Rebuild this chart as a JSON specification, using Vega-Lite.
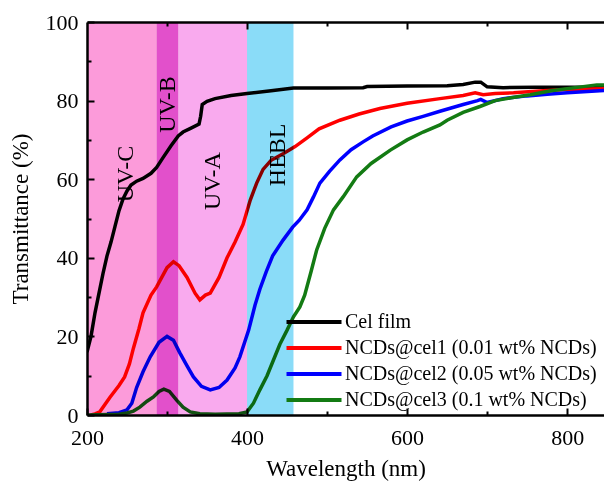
{
  "$schema": "https://vega.github.io/schema/vega-lite/v6.json",
  "width": 517,
  "height": 393,
  "autosize": {"type": "none"},
  "padding": {"left": 87, "top": 22, "right": 0, "bottom": 71},
  "background": "white",
  "config": {
    "font": "Liberation Serif",
    "view": {"stroke": null},
    "axis": {"labelFont": "Liberation Serif", "titleFont": "Liberation Serif", "labelColor": "black", "titleColor": "black", "domainColor": "black", "tickColor": "black", "grid": false, "titleFontWeight": "normal", "labelFlush": false}
  },
  "datasets": {
    "spectra": [
      {"sample": "Cel film", "wl": 200, "T": 16}, {"sample": "Cel film", "wl": 205, "T": 20}, {"sample": "Cel film", "wl": 210, "T": 26}, {"sample": "Cel film", "wl": 215, "T": 31}, {"sample": "Cel film", "wl": 220, "T": 36}, {"sample": "Cel film", "wl": 225, "T": 40.5}, {"sample": "Cel film", "wl": 230, "T": 44}, {"sample": "Cel film", "wl": 235, "T": 48}, {"sample": "Cel film", "wl": 240, "T": 52}, {"sample": "Cel film", "wl": 245, "T": 55}, {"sample": "Cel film", "wl": 250, "T": 57}, {"sample": "Cel film", "wl": 255, "T": 58.5}, {"sample": "Cel film", "wl": 262, "T": 59.5}, {"sample": "Cel film", "wl": 270, "T": 60.2}, {"sample": "Cel film", "wl": 280, "T": 61.5}, {"sample": "Cel film", "wl": 287, "T": 63}, {"sample": "Cel film", "wl": 295, "T": 65.5}, {"sample": "Cel film", "wl": 305, "T": 68.5}, {"sample": "Cel film", "wl": 314, "T": 71}, {"sample": "Cel film", "wl": 320, "T": 72}, {"sample": "Cel film", "wl": 330, "T": 73}, {"sample": "Cel film", "wl": 340, "T": 74}, {"sample": "Cel film", "wl": 342, "T": 76}, {"sample": "Cel film", "wl": 344, "T": 79}, {"sample": "Cel film", "wl": 350, "T": 79.8}, {"sample": "Cel film", "wl": 360, "T": 80.5}, {"sample": "Cel film", "wl": 380, "T": 81.3}, {"sample": "Cel film", "wl": 400, "T": 81.8}, {"sample": "Cel film", "wl": 430, "T": 82.5}, {"sample": "Cel film", "wl": 458, "T": 83.2}, {"sample": "Cel film", "wl": 500, "T": 83.2}, {"sample": "Cel film", "wl": 545, "T": 83.3}, {"sample": "Cel film", "wl": 550, "T": 83.6}, {"sample": "Cel film", "wl": 600, "T": 83.7}, {"sample": "Cel film", "wl": 650, "T": 83.8}, {"sample": "Cel film", "wl": 670, "T": 84.1}, {"sample": "Cel film", "wl": 685, "T": 84.7}, {"sample": "Cel film", "wl": 692, "T": 84.7}, {"sample": "Cel film", "wl": 700, "T": 83.5}, {"sample": "Cel film", "wl": 720, "T": 83.3}, {"sample": "Cel film", "wl": 760, "T": 83.4}, {"sample": "Cel film", "wl": 800, "T": 83.4}, {"sample": "Cel film", "wl": 846, "T": 83.4},
      {"sample": "NCDs@cel1 (0.01 wt% NCDs)", "wl": 205, "T": 0}, {"sample": "NCDs@cel1 (0.01 wt% NCDs)", "wl": 210, "T": 0.3}, {"sample": "NCDs@cel1 (0.01 wt% NCDs)", "wl": 216, "T": 0.8}, {"sample": "NCDs@cel1 (0.01 wt% NCDs)", "wl": 229, "T": 4.6}, {"sample": "NCDs@cel1 (0.01 wt% NCDs)", "wl": 240, "T": 7.5}, {"sample": "NCDs@cel1 (0.01 wt% NCDs)", "wl": 247, "T": 9.7}, {"sample": "NCDs@cel1 (0.01 wt% NCDs)", "wl": 253, "T": 13}, {"sample": "NCDs@cel1 (0.01 wt% NCDs)", "wl": 258, "T": 17}, {"sample": "NCDs@cel1 (0.01 wt% NCDs)", "wl": 265, "T": 22}, {"sample": "NCDs@cel1 (0.01 wt% NCDs)", "wl": 270, "T": 26}, {"sample": "NCDs@cel1 (0.01 wt% NCDs)", "wl": 280, "T": 30.5}, {"sample": "NCDs@cel1 (0.01 wt% NCDs)", "wl": 287, "T": 32.6}, {"sample": "NCDs@cel1 (0.01 wt% NCDs)", "wl": 300, "T": 37.5}, {"sample": "NCDs@cel1 (0.01 wt% NCDs)", "wl": 308, "T": 39}, {"sample": "NCDs@cel1 (0.01 wt% NCDs)", "wl": 315, "T": 38}, {"sample": "NCDs@cel1 (0.01 wt% NCDs)", "wl": 325, "T": 35}, {"sample": "NCDs@cel1 (0.01 wt% NCDs)", "wl": 335, "T": 31}, {"sample": "NCDs@cel1 (0.01 wt% NCDs)", "wl": 341, "T": 29.3}, {"sample": "NCDs@cel1 (0.01 wt% NCDs)", "wl": 348, "T": 30.5}, {"sample": "NCDs@cel1 (0.01 wt% NCDs)", "wl": 354, "T": 31}, {"sample": "NCDs@cel1 (0.01 wt% NCDs)", "wl": 365, "T": 35}, {"sample": "NCDs@cel1 (0.01 wt% NCDs)", "wl": 375, "T": 40}, {"sample": "NCDs@cel1 (0.01 wt% NCDs)", "wl": 385, "T": 44}, {"sample": "NCDs@cel1 (0.01 wt% NCDs)", "wl": 395, "T": 48.5}, {"sample": "NCDs@cel1 (0.01 wt% NCDs)", "wl": 404, "T": 54.7}, {"sample": "NCDs@cel1 (0.01 wt% NCDs)", "wl": 412, "T": 59}, {"sample": "NCDs@cel1 (0.01 wt% NCDs)", "wl": 420, "T": 62.5}, {"sample": "NCDs@cel1 (0.01 wt% NCDs)", "wl": 430, "T": 64.8}, {"sample": "NCDs@cel1 (0.01 wt% NCDs)", "wl": 445, "T": 66.5}, {"sample": "NCDs@cel1 (0.01 wt% NCDs)", "wl": 460, "T": 68.3}, {"sample": "NCDs@cel1 (0.01 wt% NCDs)", "wl": 475, "T": 70.5}, {"sample": "NCDs@cel1 (0.01 wt% NCDs)", "wl": 490, "T": 72.8}, {"sample": "NCDs@cel1 (0.01 wt% NCDs)", "wl": 516, "T": 75}, {"sample": "NCDs@cel1 (0.01 wt% NCDs)", "wl": 540, "T": 76.6}, {"sample": "NCDs@cel1 (0.01 wt% NCDs)", "wl": 566, "T": 78}, {"sample": "NCDs@cel1 (0.01 wt% NCDs)", "wl": 600, "T": 79.3}, {"sample": "NCDs@cel1 (0.01 wt% NCDs)", "wl": 641, "T": 80.5}, {"sample": "NCDs@cel1 (0.01 wt% NCDs)", "wl": 670, "T": 81.3}, {"sample": "NCDs@cel1 (0.01 wt% NCDs)", "wl": 685, "T": 82}, {"sample": "NCDs@cel1 (0.01 wt% NCDs)", "wl": 695, "T": 81.5}, {"sample": "NCDs@cel1 (0.01 wt% NCDs)", "wl": 710, "T": 81.8}, {"sample": "NCDs@cel1 (0.01 wt% NCDs)", "wl": 733, "T": 82}, {"sample": "NCDs@cel1 (0.01 wt% NCDs)", "wl": 770, "T": 82.5}, {"sample": "NCDs@cel1 (0.01 wt% NCDs)", "wl": 800, "T": 82.8}, {"sample": "NCDs@cel1 (0.01 wt% NCDs)", "wl": 846, "T": 83},
      {"sample": "NCDs@cel2 (0.05 wt% NCDs)", "wl": 225, "T": 0.3}, {"sample": "NCDs@cel2 (0.05 wt% NCDs)", "wl": 240, "T": 0.6}, {"sample": "NCDs@cel2 (0.05 wt% NCDs)", "wl": 250, "T": 1.3}, {"sample": "NCDs@cel2 (0.05 wt% NCDs)", "wl": 256, "T": 3}, {"sample": "NCDs@cel2 (0.05 wt% NCDs)", "wl": 262, "T": 7}, {"sample": "NCDs@cel2 (0.05 wt% NCDs)", "wl": 270, "T": 11}, {"sample": "NCDs@cel2 (0.05 wt% NCDs)", "wl": 279, "T": 14.8}, {"sample": "NCDs@cel2 (0.05 wt% NCDs)", "wl": 290, "T": 18.5}, {"sample": "NCDs@cel2 (0.05 wt% NCDs)", "wl": 300, "T": 20}, {"sample": "NCDs@cel2 (0.05 wt% NCDs)", "wl": 308, "T": 19}, {"sample": "NCDs@cel2 (0.05 wt% NCDs)", "wl": 316, "T": 15.8}, {"sample": "NCDs@cel2 (0.05 wt% NCDs)", "wl": 325, "T": 12.5}, {"sample": "NCDs@cel2 (0.05 wt% NCDs)", "wl": 333, "T": 9.7}, {"sample": "NCDs@cel2 (0.05 wt% NCDs)", "wl": 343, "T": 7.3}, {"sample": "NCDs@cel2 (0.05 wt% NCDs)", "wl": 354, "T": 6.4}, {"sample": "NCDs@cel2 (0.05 wt% NCDs)", "wl": 365, "T": 7}, {"sample": "NCDs@cel2 (0.05 wt% NCDs)", "wl": 375, "T": 8.9}, {"sample": "NCDs@cel2 (0.05 wt% NCDs)", "wl": 385, "T": 12}, {"sample": "NCDs@cel2 (0.05 wt% NCDs)", "wl": 391, "T": 14.8}, {"sample": "NCDs@cel2 (0.05 wt% NCDs)", "wl": 402, "T": 21.6}, {"sample": "NCDs@cel2 (0.05 wt% NCDs)", "wl": 410, "T": 28}, {"sample": "NCDs@cel2 (0.05 wt% NCDs)", "wl": 416, "T": 32}, {"sample": "NCDs@cel2 (0.05 wt% NCDs)", "wl": 424, "T": 36.5}, {"sample": "NCDs@cel2 (0.05 wt% NCDs)", "wl": 432, "T": 40.5}, {"sample": "NCDs@cel2 (0.05 wt% NCDs)", "wl": 445, "T": 44.5}, {"sample": "NCDs@cel2 (0.05 wt% NCDs)", "wl": 457, "T": 47.8}, {"sample": "NCDs@cel2 (0.05 wt% NCDs)", "wl": 465, "T": 49.5}, {"sample": "NCDs@cel2 (0.05 wt% NCDs)", "wl": 475, "T": 52.2}, {"sample": "NCDs@cel2 (0.05 wt% NCDs)", "wl": 483, "T": 55.5}, {"sample": "NCDs@cel2 (0.05 wt% NCDs)", "wl": 491, "T": 59}, {"sample": "NCDs@cel2 (0.05 wt% NCDs)", "wl": 503, "T": 62}, {"sample": "NCDs@cel2 (0.05 wt% NCDs)", "wl": 516, "T": 64.9}, {"sample": "NCDs@cel2 (0.05 wt% NCDs)", "wl": 530, "T": 67.5}, {"sample": "NCDs@cel2 (0.05 wt% NCDs)", "wl": 545, "T": 69.5}, {"sample": "NCDs@cel2 (0.05 wt% NCDs)", "wl": 557, "T": 71}, {"sample": "NCDs@cel2 (0.05 wt% NCDs)", "wl": 580, "T": 73.3}, {"sample": "NCDs@cel2 (0.05 wt% NCDs)", "wl": 600, "T": 74.8}, {"sample": "NCDs@cel2 (0.05 wt% NCDs)", "wl": 620, "T": 76}, {"sample": "NCDs@cel2 (0.05 wt% NCDs)", "wl": 641, "T": 77.3}, {"sample": "NCDs@cel2 (0.05 wt% NCDs)", "wl": 670, "T": 79}, {"sample": "NCDs@cel2 (0.05 wt% NCDs)", "wl": 688, "T": 80}, {"sample": "NCDs@cel2 (0.05 wt% NCDs)", "wl": 692, "T": 80.3}, {"sample": "NCDs@cel2 (0.05 wt% NCDs)", "wl": 700, "T": 79.5}, {"sample": "NCDs@cel2 (0.05 wt% NCDs)", "wl": 720, "T": 80.5}, {"sample": "NCDs@cel2 (0.05 wt% NCDs)", "wl": 750, "T": 81.2}, {"sample": "NCDs@cel2 (0.05 wt% NCDs)", "wl": 775, "T": 81.6}, {"sample": "NCDs@cel2 (0.05 wt% NCDs)", "wl": 800, "T": 82}, {"sample": "NCDs@cel2 (0.05 wt% NCDs)", "wl": 846, "T": 82.6},
      {"sample": "NCDs@cel3 (0.1 wt% NCDs)", "wl": 200, "T": 0}, {"sample": "NCDs@cel3 (0.1 wt% NCDs)", "wl": 240, "T": 0.2}, {"sample": "NCDs@cel3 (0.1 wt% NCDs)", "wl": 250, "T": 0.5}, {"sample": "NCDs@cel3 (0.1 wt% NCDs)", "wl": 258, "T": 1}, {"sample": "NCDs@cel3 (0.1 wt% NCDs)", "wl": 266, "T": 2}, {"sample": "NCDs@cel3 (0.1 wt% NCDs)", "wl": 275, "T": 3.5}, {"sample": "NCDs@cel3 (0.1 wt% NCDs)", "wl": 283, "T": 4.6}, {"sample": "NCDs@cel3 (0.1 wt% NCDs)", "wl": 290, "T": 6}, {"sample": "NCDs@cel3 (0.1 wt% NCDs)", "wl": 296, "T": 6.6}, {"sample": "NCDs@cel3 (0.1 wt% NCDs)", "wl": 303, "T": 6}, {"sample": "NCDs@cel3 (0.1 wt% NCDs)", "wl": 312, "T": 3.8}, {"sample": "NCDs@cel3 (0.1 wt% NCDs)", "wl": 320, "T": 2}, {"sample": "NCDs@cel3 (0.1 wt% NCDs)", "wl": 329, "T": 0.8}, {"sample": "NCDs@cel3 (0.1 wt% NCDs)", "wl": 341, "T": 0.3}, {"sample": "NCDs@cel3 (0.1 wt% NCDs)", "wl": 360, "T": 0.2}, {"sample": "NCDs@cel3 (0.1 wt% NCDs)", "wl": 390, "T": 0.3}, {"sample": "NCDs@cel3 (0.1 wt% NCDs)", "wl": 400, "T": 0.8}, {"sample": "NCDs@cel3 (0.1 wt% NCDs)", "wl": 408, "T": 3}, {"sample": "NCDs@cel3 (0.1 wt% NCDs)", "wl": 416, "T": 6.4}, {"sample": "NCDs@cel3 (0.1 wt% NCDs)", "wl": 425, "T": 10}, {"sample": "NCDs@cel3 (0.1 wt% NCDs)", "wl": 433, "T": 14}, {"sample": "NCDs@cel3 (0.1 wt% NCDs)", "wl": 441, "T": 18}, {"sample": "NCDs@cel3 (0.1 wt% NCDs)", "wl": 450, "T": 21.6}, {"sample": "NCDs@cel3 (0.1 wt% NCDs)", "wl": 458, "T": 25}, {"sample": "NCDs@cel3 (0.1 wt% NCDs)", "wl": 466, "T": 27.5}, {"sample": "NCDs@cel3 (0.1 wt% NCDs)", "wl": 472, "T": 30.5}, {"sample": "NCDs@cel3 (0.1 wt% NCDs)", "wl": 480, "T": 36.5}, {"sample": "NCDs@cel3 (0.1 wt% NCDs)", "wl": 487, "T": 42}, {"sample": "NCDs@cel3 (0.1 wt% NCDs)", "wl": 497, "T": 47.5}, {"sample": "NCDs@cel3 (0.1 wt% NCDs)", "wl": 508, "T": 52.2}, {"sample": "NCDs@cel3 (0.1 wt% NCDs)", "wl": 520, "T": 55.5}, {"sample": "NCDs@cel3 (0.1 wt% NCDs)", "wl": 537, "T": 60.6}, {"sample": "NCDs@cel3 (0.1 wt% NCDs)", "wl": 555, "T": 64}, {"sample": "NCDs@cel3 (0.1 wt% NCDs)", "wl": 579, "T": 67.4}, {"sample": "NCDs@cel3 (0.1 wt% NCDs)", "wl": 600, "T": 70}, {"sample": "NCDs@cel3 (0.1 wt% NCDs)", "wl": 620, "T": 72}, {"sample": "NCDs@cel3 (0.1 wt% NCDs)", "wl": 641, "T": 73.8}, {"sample": "NCDs@cel3 (0.1 wt% NCDs)", "wl": 650, "T": 75}, {"sample": "NCDs@cel3 (0.1 wt% NCDs)", "wl": 670, "T": 77}, {"sample": "NCDs@cel3 (0.1 wt% NCDs)", "wl": 691, "T": 78.5}, {"sample": "NCDs@cel3 (0.1 wt% NCDs)", "wl": 710, "T": 80}, {"sample": "NCDs@cel3 (0.1 wt% NCDs)", "wl": 730, "T": 80.7}, {"sample": "NCDs@cel3 (0.1 wt% NCDs)", "wl": 754, "T": 81.5}, {"sample": "NCDs@cel3 (0.1 wt% NCDs)", "wl": 780, "T": 82.5}, {"sample": "NCDs@cel3 (0.1 wt% NCDs)", "wl": 810, "T": 83.3}, {"sample": "NCDs@cel3 (0.1 wt% NCDs)", "wl": 837, "T": 84}, {"sample": "NCDs@cel3 (0.1 wt% NCDs)", "wl": 846, "T": 84}
    ],
    "bands": [
      {"band": "UV-C", "start": 200, "end": 287},
      {"band": "UV-B", "start": 287, "end": 314},
      {"band": "UV-A", "start": 314, "end": 400},
      {"band": "HEBL", "start": 400, "end": 458}
    ],
    "bandLabels": [
      {"label": "UV-C", "wl": 249, "T": 61.3},
      {"label": "UV-B", "wl": 301, "T": 79},
      {"label": "UV-A", "wl": 357.5, "T": 59.5},
      {"label": "HEBL", "wl": 439, "T": 66.2}
    ]
  },
  "resolve": {"axis": {"x": "independent", "y": "independent"}},
  "layer": [
    {
      "data": {"name": "spectra"},
      "mark": {"type": "line", "strokeWidth": 3.5, "clip": true},
      "encoding": {
        "x": {"field": "wl", "type": "quantitative", "scale": {"domain": [200, 846], "nice": false, "zero": false},
          "axis": {"orient": "bottom", "values": [200, 300, 400, 500, 600, 700, 800], "labelExpr": "datum.value % 200 === 0 ? datum.label : ''", "tickSize": {"condition": {"test": "datum.value % 200 === 0", "value": -7}, "value": -4}, "tickWidth": 2, "domainWidth": 2.5, "labelFontSize": 22, "labelPadding": 19, "title": "Wavelength (nm)", "titleFontSize": 23, "titlePadding": 9, "zindex": 2}},
        "y": {"field": "T", "type": "quantitative", "scale": {"domain": [0, 100], "nice": false},
          "axis": {"orient": "left", "values": [0, 10, 20, 30, 40, 50, 60, 70, 80, 90, 100], "labelExpr": "datum.value % 20 === 0 ? datum.label : ''", "tickSize": {"condition": {"test": "datum.value % 20 === 0", "value": -7}, "value": -4}, "tickWidth": 2, "domainWidth": 2.5, "labelFontSize": 22, "labelPadding": 16, "title": "Transmittance (%)", "titleFontSize": 23, "titlePadding": 13, "zindex": 2}},
        "color": {"field": "sample", "type": "nominal",
          "scale": {"domain": ["Cel film", "NCDs@cel1 (0.01 wt% NCDs)", "NCDs@cel2 (0.05 wt% NCDs)", "NCDs@cel3 (0.1 wt% NCDs)"], "range": ["#000000", "#FF0000", "#0000FF", "#137B13"]},
          "legend": {"orient": "none", "legendX": 217, "legendY": 290, "title": null, "padding": 0, "symbolType": "M-5,0H5", "symbolSize": 121, "symbolStrokeWidth": 4, "labelFontSize": 20, "labelFont": "Liberation Serif", "labelColor": "black", "labelOffset": 21, "rowPadding": 6, "labelLimit": 400}},
        "order": {"field": "wl", "type": "quantitative"}
      }
    },
    {
      "data": {"name": "bands"},
      "mark": {"type": "rect", "blend": "multiply"},
      "encoding": {
        "x": {"field": "start", "type": "quantitative",
          "axis": {"orient": "top", "values": [300, 400, 500, 600, 700, 800], "labels": false, "title": null, "tickSize": {"condition": {"test": "datum.value % 200 === 0", "value": -7}, "value": -4}, "tickWidth": 2, "domainWidth": 2.5, "zindex": 2}},
        "x2": {"field": "end"},
        "fill": {"field": "band", "type": "nominal", "scale": {"domain": ["UV-C", "UV-B", "UV-A", "HEBL"], "range": ["#FC9BDA", "#E250CB", "#F9AAEE", "#8ADCF8"]}, "legend": null}
      }
    },
    {
      "data": {"name": "bandLabels"},
      "mark": {"type": "text", "angle": 270, "align": "center", "baseline": "middle", "font": "Liberation Serif", "fontSize": 24, "color": "black"},
      "encoding": {
        "x": {"field": "wl", "type": "quantitative", "axis": null},
        "y": {"field": "T", "type": "quantitative", "axis": null},
        "text": {"field": "label"}
      }
    }
  ]
}
